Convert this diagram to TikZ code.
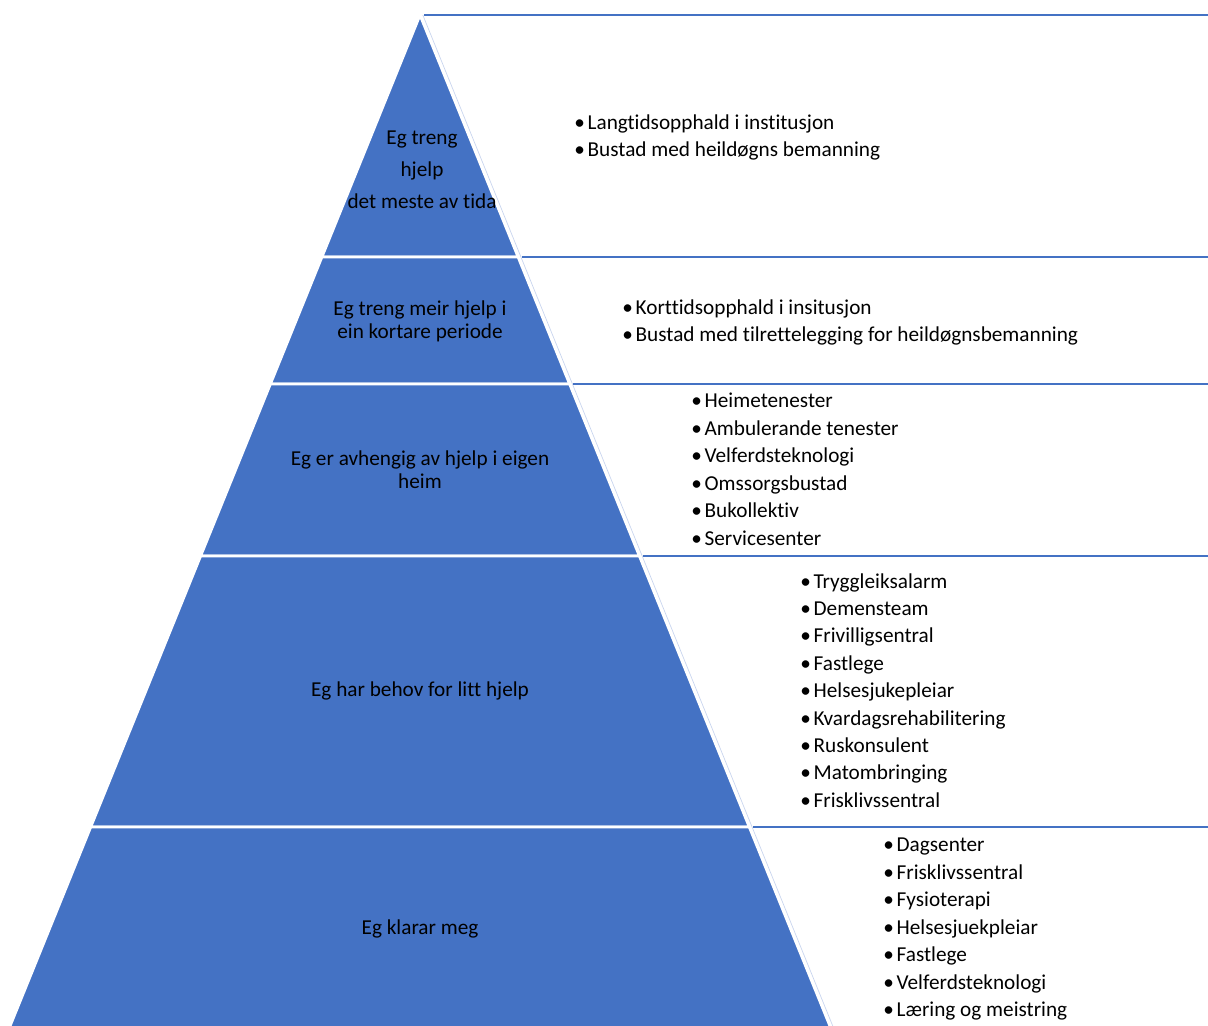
\documentclass[tikz,border=0pt]{standalone}
\usepackage{fontspec}
\setmainfont{Carlito}[Ligatures=NoCommon]
\definecolor{pyrblue}{HTML}{4472C4}
\definecolor{edgeblue}{HTML}{C9D5EE}

\tikzset{
  layer/.style={fill=pyrblue, draw=white, line width=2pt},
  level/.style={align=center, text=black, font=\fontsize{15.1}{16.4}\selectfont},
  services/.style={align=left, anchor=north west, inner sep=0pt,
                   font=\fontsize{15.1}{19.5}\selectfont},
  divider/.style={draw=pyrblue, line width=2pt},
}
\newcommand{\bul}{•\hspace{2pt}}

\begin{document}
\begin{tikzpicture}[x=0.025cm, y=-0.025cm]
  \useasboundingbox (0,0) rectangle (1208,1025);

  % pyramid corners (left / right edge at each level)
  \coordinate (apex) at (420,15);
  \coordinate (l1) at (321.9,257);  \coordinate (r1) at (518.1,257);
  \coordinate (l2) at (270.4,384);  \coordinate (r2) at (569.6,384);
  \coordinate (l3) at (200.6,556);  \coordinate (r3) at (639.4,556);
  \coordinate (l4) at (90.7,827);   \coordinate (r4) at (749.3,827);
  \coordinate (l5) at (6.0,1036);   \coordinate (r5) at (834.0,1036);

  % layers
  \draw[layer] (apex) -- (r1) -- (l1) -- cycle;
  \draw[layer] (l1) -- (r1) -- (r2) -- (l2) -- cycle;
  \draw[layer] (l2) -- (r2) -- (r3) -- (l3) -- cycle;
  \draw[layer] (l3) -- (r3) -- (r4) -- (l4) -- cycle;
  \draw[layer] (l4) -- (r4) -- (r5) -- (l5) -- cycle;

  % left border of the text boxes
  \draw[edgeblue, line width=0.5pt] ([xshift=2pt]apex) -- ([xshift=2pt]r5);

  % dividers on the right
  \coordinate (e0) at (1208,15);
  \coordinate (e1) at (1208,257);
  \coordinate (e2) at (1208,384);
  \coordinate (e3) at (1208,556);
  \coordinate (e4) at (1208,827);
  \draw[divider] ([xshift=3pt]apex) -- (e0);
  \draw[divider] ([xshift=2.5pt]r1) -- (e1);
  \draw[divider] ([xshift=2.5pt]r2) -- (e2);
  \draw[divider] ([xshift=2.5pt]r3) -- (e3);
  \draw[divider] ([xshift=2.5pt]r4) -- (e4);

  % level labels
  \node[level, font=\fontsize{15.1}{22.8}\selectfont] (lev1) at (422,170)
        {Eg treng\\hjelp\\det meste av tida};
  \node[level] (lev2) at (420,321) {Eg treng meir hjelp i\\ein kortare periode};
  \node[level] (lev3) at (420,470) {Eg er avhengig av hjelp i eigen\\heim};
  \node[level] (lev4) at (420,691) {Eg har behov for litt hjelp};
  \node[level] (lev5) at (420,929) {Eg klarar meg};

  % services per level
  \node[services] (srv1) at (574,114)
        {\bul Langtidsopphald i institusjon\\
         \bul Bustad med heildøgns bemanning};
  \node[services] (srv2) at (622,299)
        {\bul Korttidsopphald i insitusjon\\
         \bul Bustad med tilrettelegging for heildøgnsbemanning};
  \node[services] (srv3) at (691,393)
        {\bul Heimetenester\\
         \bul Ambulerande tenester\\
         \bul Velferdsteknologi\\
         \bul Omssorgsbustad\\
         \bul Bukollektiv\\
         \bul Servicesenter};
  \node[services] (srv4) at (800,573)
        {\bul Tryggleiksalarm\\
         \bul Demensteam\\
         \bul Frivilligsentral\\
         \bul Fastlege\\
         \bul Helsesjukepleiar\\
         \bul Kvardagsrehabilitering\\
         \bul Ruskonsulent\\
         \bul Matombringing\\
         \bul Frisklivssentral};
  \node[services] (srv5) at (883,838)
        {\bul Dagsenter\\
         \bul Frisklivssentral\\
         \bul Fysioterapi\\
         \bul Helsesjuekpleiar\\
         \bul Fastlege\\
         \bul Velferdsteknologi\\
         \bul Læring og meistring};
\end{tikzpicture}
\end{document}
